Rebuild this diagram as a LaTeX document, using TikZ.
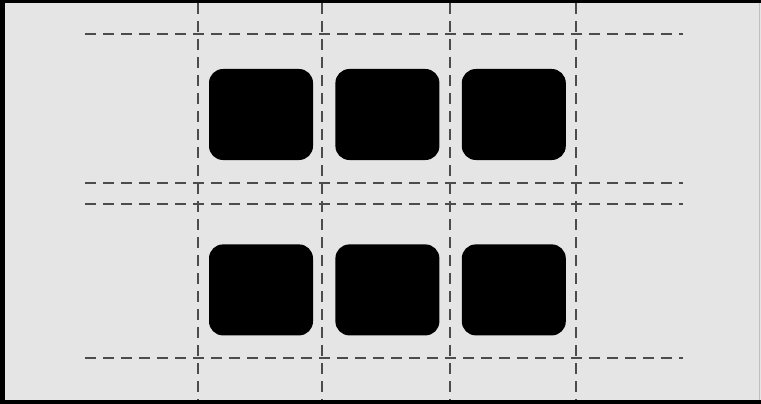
\documentclass[tikz,border=0pt]{standalone}
\usetikzlibrary{positioning}
\begin{document}
\begin{tikzpicture}[
        x=1pt, y=-1pt,
        node distance=84pt and 22pt,
        % Styles
        cell/.style={rectangle, rounded corners=14pt, fill=black, minimum width=104pt, minimum height=91pt, inner sep=0pt},
        guide/.style={line width=2.8pt, draw=black!70, dash pattern=on 11pt off 7pt},
        frame/.style={fill=black},
        canvas/.style={fill=gray!20}
    ]

    % --- Frame ---
    \useasboundingbox (0,0) rectangle (761,404);
    \fill[frame] (0,0) rectangle (770,404);
    \fill[canvas] (5,3) rectangle (770,400);
    \draw[black!25, line width=0.8pt] (759.5,3) -- (759.5,400);

    % --- Cells ---
    \node[cell] (c11) at (261,114.5) {};
    \node[cell, right=of c11] (c12) {};
    \node[cell, right=of c12] (c13) {};
    \node[cell, below=of c11] (c21) {};
    \node[cell, right=of c21] (c22) {};
    \node[cell, right=of c22] (c23) {};

    % --- Guides ---
    \draw[guide] (85,34) -- (683,34);
    \draw[guide] (85,183) -- (683,183);
    \draw[guide] (85,204) -- (683,204);
    \draw[guide] (85,358) -- (683,358);

    \draw[guide] (198,3) -- (198,400);
    \draw[guide] (322,3) -- (322,400);
    \draw[guide] (450,3) -- (450,400);
    \draw[guide] (576,3) -- (576,400);

\end{tikzpicture}
\end{document}
